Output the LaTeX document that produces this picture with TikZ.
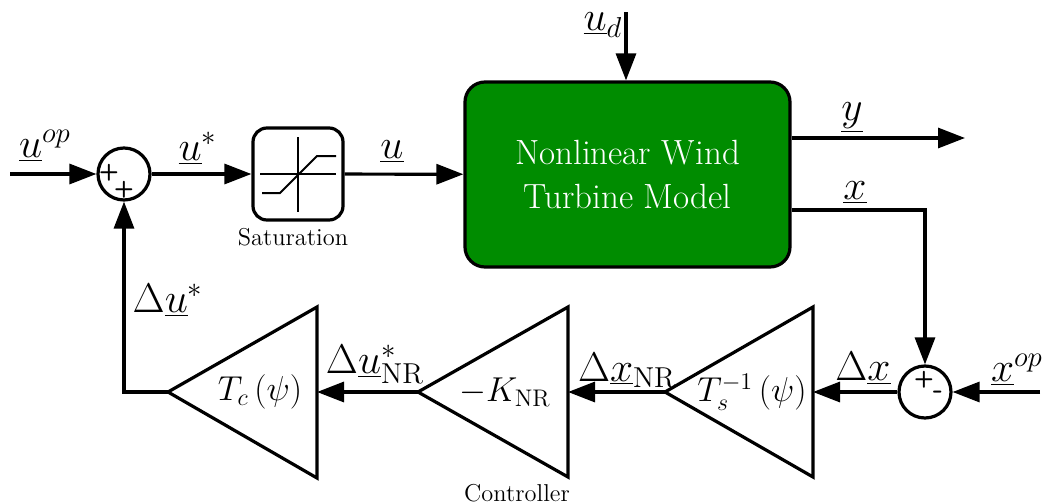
\documentclass[tikz,border=0pt]{standalone}
\usetikzlibrary{arrows.meta}
\definecolor{plantgreen}{RGB}{0,140,0}
\begin{document}
\begin{tikzpicture}[x=0.5pt,y=-0.5pt, line width=1.6pt, line join=miter,
  arr/.style={-{Triangle[length=13.5pt,width=10pt]}},
  lbl/.style={font=\fontsize{20}{24}\selectfont, inner sep=0pt},
  sumnode/.style={circle, draw, minimum size=26pt, inner sep=0pt},
  sgn/.style={font=\sffamily\bfseries\fontsize{11.5}{13}\selectfont, inner sep=0pt},
  txt/.style={font=\fontsize{12.2}{14}\selectfont, inner sep=0pt},
  gain/.style={draw, line width=1.6pt},
  gaintxt/.style={font=\fontsize{18}{22}\selectfont, inner sep=0pt},
]
\useasboundingbox (0,0) rectangle (1046,504);

% summing junctions
\node[sumnode] (s1) at (124,174) {};
\node[sgn] (s1a) at (109,173) {+};
\node[sgn] (s1b) at (124,190) {+};
\node[sumnode] (s2) at (925,392) {};
\node[sgn] (s2a) at (924,380) {+};
\node[sgn, font=\sffamily\bfseries\fontsize{14}{15}\selectfont] (s2b) at (938,395) {-};

% saturation
\node[draw, rounded corners=7pt, minimum width=45pt, minimum height=46pt, inner sep=0pt] (sat) at (298,174) {};
\draw[line width=1pt] (260,174) -- (336,174);
\draw[line width=1pt] (298,137) -- (298,212);
\draw[line width=1pt] (262,193) -- (280,193) -- (317,156) -- (336,156);
\node[txt] (satl) at (293,237) {Saturation};

% plant
\node[draw, fill=plantgreen, rounded corners=10pt, minimum width=162.5pt, minimum height=92.5pt, inner sep=0pt,
      text=white, align=center, font=\fontsize{17.5}{22}\selectfont] (plant) at (627.5,174.5) {Nonlinear Wind\\Turbine Model};

% gains (triangles)
\coordinate (tsin) at (813,392); \coordinate (tsout) at (665,392);
\coordinate (kin) at (568,392);  \coordinate (kout) at (418,392);
\coordinate (tcin) at (317,392); \coordinate (tcout) at (168,392);
\draw[gain] (813,307) -- (813,477) -- (tsout) -- cycle;
\draw[gain] (568,307) -- (568,477) -- (kout) -- cycle;
\draw[gain] (317,307) -- (317,478) -- (tcout) -- cycle;
\node[gaintxt] (tst) at (752,392) {$T_s^{-1}\left(\psi\right)$};
\node[gaintxt] (kt) at (505,392) {$-K_{\mathrm{NR}}$};
\node[gaintxt] (tct) at (260,392) {$T_c\left(\psi\right)$};
\node[txt] (ctrl) at (517,493) {Controller};

% external coordinates
\coordinate (in1) at (10,174);
\coordinate (ud) at (626,12);
\coordinate (yout) at (965,138);
\coordinate (xc) at (925,210);
\coordinate (xop) at (1040,392);
\coordinate (fb) at (124,392);

% connectors
\draw[arr] (in1) -- (s1);
\draw[arr] (s1) -- (sat);
\draw[arr] (sat) -- (plant);
\draw[arr] (ud) -- (ud |- plant.north);
\draw[arr] (plant.east |- yout) -- (yout);
\draw[arr] (plant.east |- xc) -- (xc) -- (s2);
\draw[arr] (xop) -- (s2);
\draw[arr] (s2) -- (tsin);
\draw[arr] (tsout) -- (kin);
\draw[arr] (kout) -- (tcin);
\draw[arr] (tcout) -- (fb) -- (s1);

% labels
\node[lbl] (l1) at (45,146) {$\underline{u}^{op}$};
\node[lbl] (l2) at (198,148) {$\underline{u}^{*}$};
\node[lbl] (l3) at (392,152) {$\underline{u}$};
\node[lbl] (l4) at (603,25) {$\underline{u}_{d}$};
\node[lbl] (l5) at (852,118) {$\underline{y}$};
\node[lbl] (l6) at (855,193) {$\underline{x}$};
\node[lbl] (l7) at (863,368) {$\Delta\underline{x}$};
\node[lbl] (l8) at (1017,370) {$\underline{x}^{op}$};
\node[lbl] (l9) at (627,370) {$\Delta\underline{x}_{\mathrm{NR}}$};
\node[lbl] (l10) at (375,364) {$\Delta\underline{u}^{*}_{\mathrm{NR}}$};
\node[lbl] (l11) at (168,300) {$\Delta\underline{u}^{*}$};
\end{tikzpicture}
\end{document}
